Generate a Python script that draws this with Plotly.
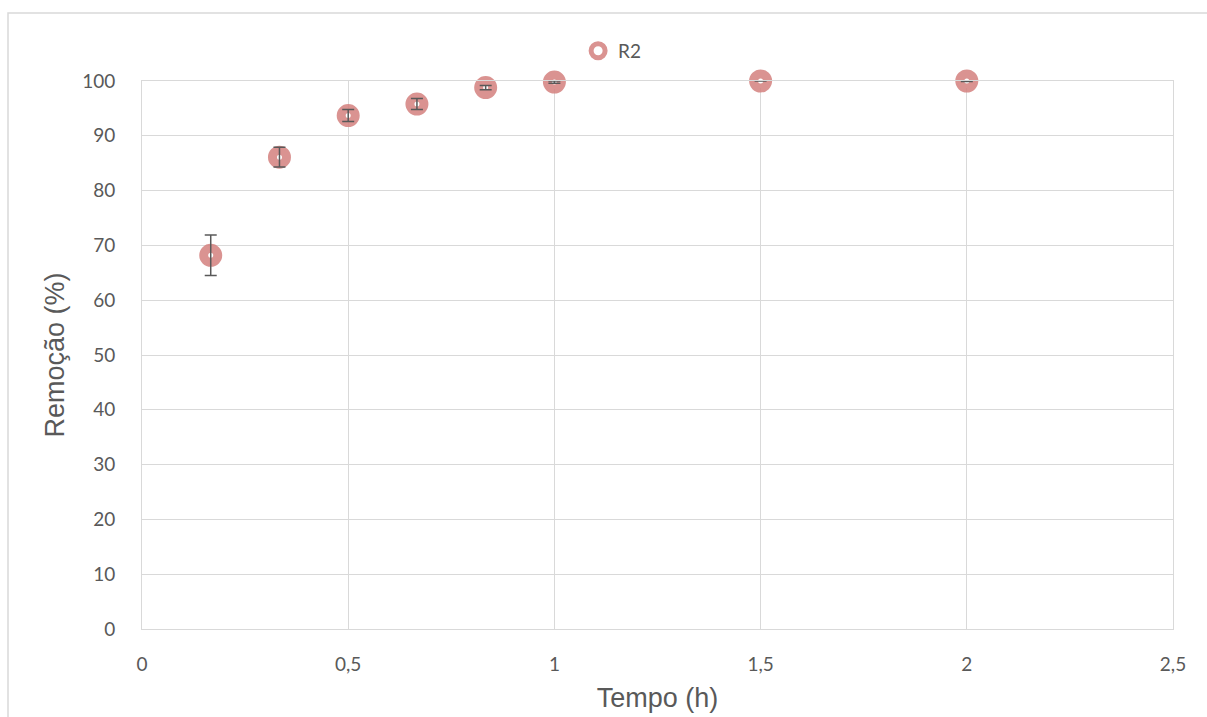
import plotly.graph_objects as go

# Remoção ao longo do tempo (ensaio R2)
tempo_h = [1/6, 1/3, 0.5, 2/3, 5/6, 1.0, 1.5, 2.0]
remocao = [68.2, 86.1, 93.7, 95.8, 98.8, 99.8, 100.0, 100.0]
desvio = [3.7, 1.8, 1.1, 1.0, 0.4, 0.2, 0.0, 0.1]

x_ticks = [0, 0.5, 1, 1.5, 2, 2.5]
x_tick_text = ["0", "0,5", "1", "1,5", "2", "2,5"]
y_ticks = list(range(0, 101, 10))

grid = "#d9d9d9"
text_c = "#595959"
mark_c = "rgba(212,128,126,0.85)"

fig = go.Figure()

# marcadores em anel
fig.add_trace(go.Scatter(
    x=tempo_h, y=remocao, mode="markers", name="R2",
    marker=dict(symbol="circle", size=14, color="white",
                line=dict(color=mark_c, width=9)),
    cliponaxis=False,
))

# barras de erro desenhadas por cima dos marcadores
fig.add_trace(go.Scatter(
    x=tempo_h, y=remocao, mode="markers", showlegend=False,
    marker=dict(size=1, opacity=0),
    error_y=dict(type="data", array=desvio, visible=True,
                 color="#595959", thickness=1.5, width=6),
    hoverinfo="skip", cliponaxis=False,
))

# moldura externa do gráfico
fig.add_shape(type="rect", xref="paper", yref="paper",
              x0=(8 - 142) / 1031, x1=(1215 - 142) / 1031,
              y0=(629 - 725) / 548, y1=(629 - 13) / 548,
              line=dict(color=grid, width=1.5), layer="below")

font_ticks = dict(family="Lato, 'Open Sans', sans-serif", size=19, color=text_c)
font_title = dict(family="'Liberation Sans', Arial, sans-serif", size=27, color=text_c)

fig.update_layout(
    width=1207, height=717,
    margin=dict(l=142, r=34, t=81, b=88),
    paper_bgcolor="white", plot_bgcolor="white",
    showlegend=True,
    legend=dict(x=0.423, y=1.055, xanchor="left", yanchor="middle",
                font=dict(family="Lato, 'Open Sans', sans-serif", size=19, color=text_c),
                bgcolor="rgba(0,0,0,0)", itemwidth=30),
    xaxis=dict(
        range=[0, 2.5], tickvals=x_ticks, ticktext=x_tick_text,
        showgrid=True, gridcolor=grid, gridwidth=1,
        zeroline=False, showline=True, linecolor=grid, mirror=True,
        ticks="", ticklabelstandoff=18, tickfont=font_ticks, automargin=False,
        title=dict(text="Tempo (h)", standoff=14, font=font_title),
    ),
    yaxis=dict(
        range=[0, 100], tickvals=y_ticks,
        showgrid=True, gridcolor=grid, gridwidth=1,
        zeroline=False, showline=True, linecolor=grid, mirror=True,
        ticks="", ticklabelstandoff=22, tickfont=font_ticks, automargin=False,
        title=dict(text="Remoção (%)", standoff=9, font=font_title),
    ),
)

fig.write_html("out.html")
